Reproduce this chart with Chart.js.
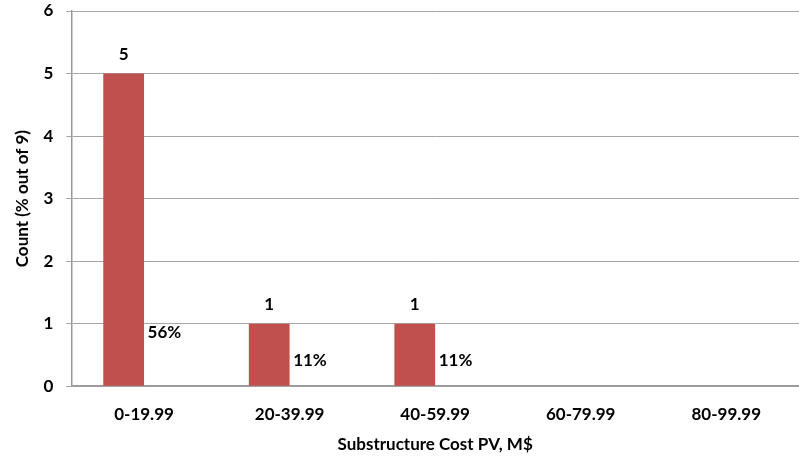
<!DOCTYPE html>
<html>
<head>
<meta charset="utf-8">
<script src="https://cdn.jsdelivr.net/npm/chart.js@4"></script>
<style>
  html, body { margin: 0; padding: 0; background: #fff; }
  #wrap { width: 799px; height: 457px; }
</style>
</head>
<body>
<div id="wrap"><canvas id="histChart"></canvas></div>
<script>
const categories = ['0-19.99', '20-39.99', '40-59.99', '60-79.99', '80-99.99'];
const counts = [5, 1, 1, 0, 0];
const shares = [0.56, 0.11, 0.11, 0, 0];
const yTicks = [0, 1, 2, 3, 4, 5, 6];

const fontFamily = 'Lato, "Open Sans", sans-serif';
const labelFont = 'bold 17px ' + fontFamily;

// draws the count and percent labels above the bars
const barLabels = {
    id: 'barLabels',
    afterDatasetsDraw(chart) {
        const ctx = chart.ctx;
        ctx.save();
        ctx.font = labelFont;
        ctx.fillStyle = '#000';
        ctx.textAlign = 'center';
        ctx.textBaseline = 'middle';
        chart.data.datasets.forEach(function (ds, i) {
            chart.getDatasetMeta(i).data.forEach(function (bar, j) {
                const v = ds.data[j];
                if (!v) return;
                const txt = i === 0 ? String(v) : Math.round(v * 100) + '%';
                ctx.fillText(txt, bar.x, bar.y - 19);
            });
        });
        ctx.restore();
    }
};

new Chart(document.getElementById('histChart').getContext('2d'), {
    type: 'bar',
    data: {
        labels: categories,
        datasets: [
            {
                label: 'Count',
                data: counts,
                backgroundColor: '#C0504D',
                categoryPercentage: 0.56,
                barPercentage: 1
            },
            {
                label: 'Percent',
                data: shares,
                backgroundColor: 'rgba(0,0,0,0)',
                categoryPercentage: 0.56,
                barPercentage: 1
            }
        ]
    },
    options: {
        responsive: true,
        maintainAspectRatio: false,
        animation: false,
        layout: { padding: { top: 11, right: 0, left: 12, bottom: 2 } },
        plugins: {
            legend: { display: false },
            tooltip: { enabled: false }
        },
        scales: {
            x: {
                grid: { display: false, drawTicks: false },
                border: { color: '#999', width: 1.5 },
                ticks: {
                    color: '#000',
                    padding: 18,
                    font: { family: fontFamily, size: 17, weight: 'bold' }
                },
                title: {
                    display: true,
                    text: 'Substructure Cost PV, M$',
                    color: '#000',
                    padding: { top: -8, bottom: 0 },
                    font: { family: fontFamily, size: 17, weight: 'bold' }
                }
            },
            y: {
                min: 0,
                max: 6,
                afterBuildTicks: function (axis) {
                    axis.ticks = yTicks.map(function (v) { return { value: v }; });
                },
                afterFit: function (axis) {
                    axis.paddingTop = 0;
                    axis.paddingBottom = 0;
                },
                grid: { color: '#a6a6a6', lineWidth: 1, tickLength: 5 },
                border: { color: '#999', width: 1.5 },
                ticks: {
                    color: '#000',
                    padding: 13,
                    font: { family: fontFamily, size: 17, weight: 'bold' }
                },
                title: {
                    display: true,
                    text: 'Count (% out of 9)',
                    color: '#000',
                    padding: { top: 0, bottom: -2 },
                    font: { family: fontFamily, size: 17, weight: 'bold' }
                }
            }
        }
    },
    plugins: [barLabels]
});
</script>
</body>
</html>
